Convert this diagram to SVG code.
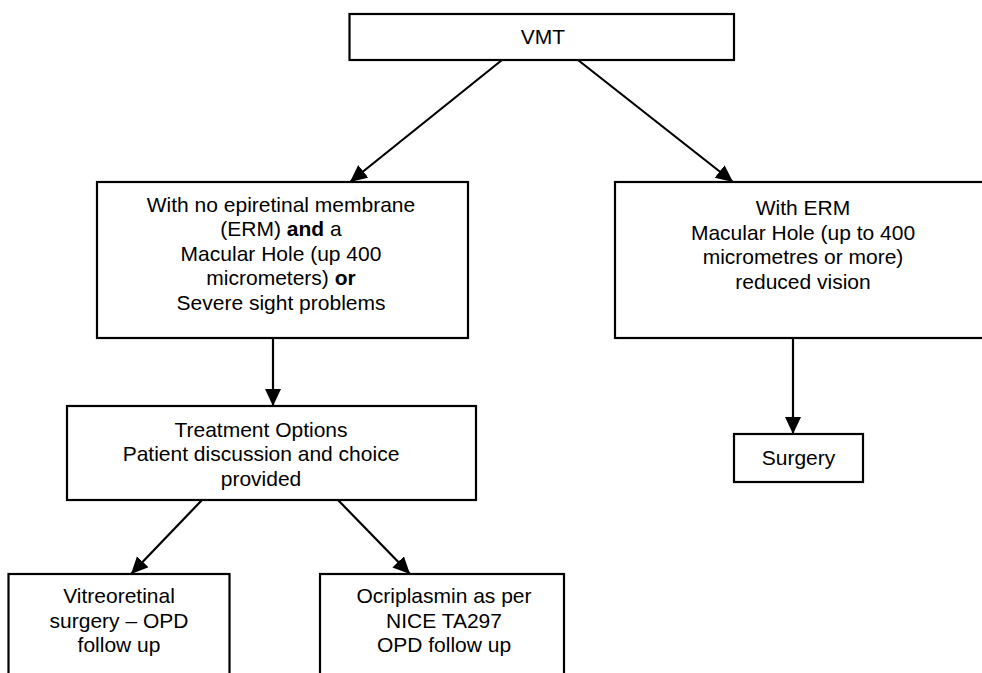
<svg xmlns="http://www.w3.org/2000/svg" width="982" height="673" viewBox="0 0 982 673">
  <style>
    .box { fill: #ffffff; stroke: #000000; stroke-width: 2.2; }
    .t { font-family: "Liberation Sans", Arial, sans-serif; font-size: 21px; fill: #000000; text-anchor: middle; }
    .b { font-weight: bold; }
    .conn { stroke: #000000; stroke-width: 2.2; fill: none; marker-end: url(#arrow); }
  </style>
  <defs>
    <marker id="arrow" markerUnits="userSpaceOnUse" markerWidth="18" markerHeight="18" refX="17" refY="8" orient="auto">
      <path d="M0,0 L17,8 L0,16 z" fill="#000000"/>
    </marker>
  </defs>
  <rect width="982" height="673" fill="#ffffff"/>
  <g id="connectors">
    <line class="conn" x1="502" y1="60" x2="350" y2="182"/>
    <line class="conn" x1="578" y1="60" x2="733" y2="182"/>
    <line class="conn" x1="273" y1="338" x2="273" y2="406"/>
    <line class="conn" x1="793" y1="338" x2="793" y2="434"/>
    <line class="conn" x1="202" y1="500" x2="131" y2="574"/>
    <line class="conn" x1="338" y1="500" x2="410" y2="574"/>
  </g>
  <g id="vmt">
    <rect class="box" x="349.5" y="14" width="384.5" height="46"/>
    <text class="t" x="543" y="44">VMT</text>
  </g>
  <g id="no-erm">
    <rect class="box" x="97" y="182" width="371" height="156"/>
    <text class="t" x="281" y="211.5">With no epiretinal membrane</text>
    <text class="t" x="281" y="236">(ERM) <tspan class="b">and</tspan> a</text>
    <text class="t" x="281" y="260.5">Macular Hole (up 400</text>
    <text class="t" x="281" y="285">micrometers) <tspan class="b">or</tspan></text>
    <text class="t" x="281" y="309.5">Severe sight problems</text>
  </g>
  <g id="with-erm">
    <rect class="box" x="615" y="182" width="380" height="156"/>
    <text class="t" x="803" y="215">With ERM</text>
    <text class="t" x="803" y="239.5">Macular Hole (up to 400</text>
    <text class="t" x="803" y="264">micrometres or more)</text>
    <text class="t" x="803" y="288.5">reduced vision</text>
  </g>
  <g id="treatment">
    <rect class="box" x="67" y="406" width="409" height="94"/>
    <text class="t" x="261" y="436.5">Treatment Options</text>
    <text class="t" x="261" y="461">Patient discussion and choice</text>
    <text class="t" x="261" y="485.5">provided</text>
  </g>
  <g id="surgery">
    <rect class="box" x="734" y="434" width="129" height="48"/>
    <text class="t" x="798.5" y="465">Surgery</text>
  </g>
  <g id="vitreoretinal">
    <rect class="box" x="8.5" y="574" width="221" height="120"/>
    <text class="t" x="119" y="603">Vitreoretinal</text>
    <text class="t" x="119" y="627.5">surgery – OPD</text>
    <text class="t" x="119" y="652">follow up</text>
  </g>
  <g id="ocriplasmin">
    <rect class="box" x="320" y="574" width="244" height="120"/>
    <text class="t" x="444" y="603">Ocriplasmin as per</text>
    <text class="t" x="444" y="627.5">NICE TA297</text>
    <text class="t" x="444" y="652">OPD follow up</text>
  </g>
</svg>
